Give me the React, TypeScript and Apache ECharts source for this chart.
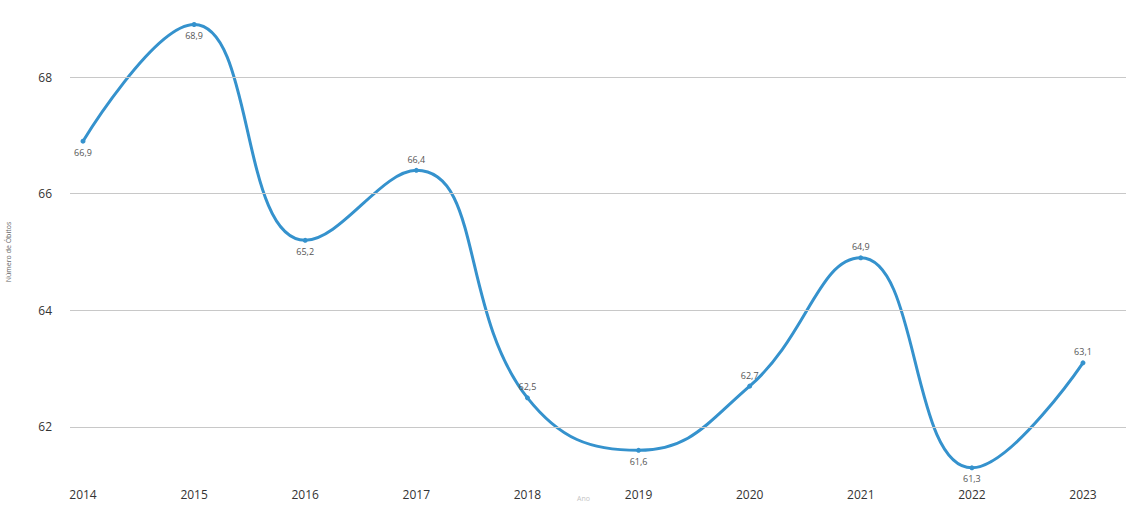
import React, { useEffect, useRef } from "react";
import * as echarts from "echarts";

const years = ["2014", "2015", "2016", "2017", "2018", "2019", "2020", "2021", "2022", "2023"];
const obitos = [66.9, 68.9, 65.2, 66.4, 62.5, 61.6, 62.7, 64.9, 61.3, 63.1];
const labelPositions = ["bottom", "bottom", "bottom", "top", "top", "bottom", "top", "top", "bottom", "top"];
const yTicks = [62, 64, 66, 68];
const xAxisTitle = "Ano";
const yAxisTitle = "Número de Óbitos";

const LINE = "#3592cd";
const FONT = "'Open Sans', 'Noto Sans', sans-serif";

export default function App() {
  const ref = useRef<HTMLDivElement>(null);
  useEffect(() => {
    if (!ref.current) return;
    const chart = echarts.init(ref.current, null, { renderer: "svg" });
    const yMin = 61;
    const yMax = 69;
    chart.setOption({
      animation: false,
      backgroundColor: "#ffffff",
      textStyle: { fontFamily: FONT },
      grid: [
        { left: 70, right: 0, top: 18.7, bottom: 19.7, outerBoundsMode: "none", containLabel: false },
        { left: 83, right: 43, top: 18.7, bottom: 19.7, outerBoundsMode: "none", containLabel: false },
      ],
      graphic: [
        {
          type: "text",
          left: 577,
          top: 495,
          silent: true,
          style: { text: xAxisTitle, fill: "#c4c4c4", fontSize: 7, fontFamily: FONT },
        },
      ],
      xAxis: [
        { type: "category", gridIndex: 0, data: years, show: false },
        {
          type: "category",
          gridIndex: 1,
          data: years,
          boundaryGap: false,
          axisLine: { show: false },
          axisTick: { show: false },
          axisLabel: { color: "#333", fontSize: 12, margin: 3, fontFamily: FONT },
        },
      ],
      yAxis: [
        {
          type: "value",
          gridIndex: 0,
          min: yMin,
          max: yMax,
          interval: 1,
          axisLine: { show: false },
          axisTick: { show: false },
          axisLabel: {
            color: "#333",
            fontSize: 12,
            margin: 18,
            fontFamily: FONT,
            formatter: (v: number) => (yTicks.includes(v) ? String(v) : ""),
          },
          splitLine: { show: false },
          name: yAxisTitle,
          nameLocation: "middle",
          nameGap: 58,
          nameRotate: 90,
          nameTextStyle: { color: "#666", fontSize: 7 },
        },
        {
          type: "value",
          gridIndex: 1,
          min: yMin,
          max: yMax,
          show: false,
          splitLine: { show: false },
        },
      ],
      series: [
        {
          type: "line",
          xAxisIndex: 0,
          yAxisIndex: 0,
          data: [],
          silent: true,
          markLine: {
            silent: true,
            symbol: "none",
            label: { show: false },
            lineStyle: { color: "#c8c8c8", width: 1, type: "solid" },
            data: yTicks.map((t) => [
              { x: 70, yAxis: t },
              { x: 1126, yAxis: t },
            ]),
          },
        },
        {
          type: "line",
          xAxisIndex: 1,
          yAxisIndex: 1,
          smooth: 0.45,
          symbol: "circle",
          symbolSize: 5,
          lineStyle: { color: LINE, width: 3 },
          itemStyle: { color: LINE },
          data: obitos.map((v, i) => ({
            value: v,
            label: { position: labelPositions[i] },
          })),
          label: {
            show: true,
            fontSize: 9,
            color: "#555",
            distance: 4,
            fontFamily: FONT,
            formatter: (p: any) => String(p.value).replace(".", ","),
          },
        },
      ],
    });
    return () => chart.dispose();
  }, []);
  return (
    <div
      ref={ref}
      style={{ position: "fixed", left: 0, top: 0, width: 1126, height: 505 }}
    />
  );
}
